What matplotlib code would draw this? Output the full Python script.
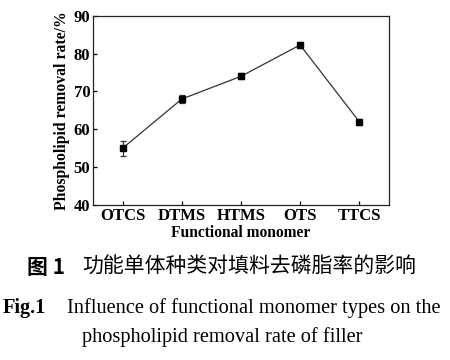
import matplotlib
matplotlib.use('agg')
import matplotlib.pyplot as plt
import numpy as np

# data
monomers = ["OTCS", "DTMS", "HTMS", "OTS", "TTCS"]
removal_rate = [55.0, 68.0, 74.0, 82.3, 62.0]
removal_err = [2.0, 1.1, 0.8, 0.9, 0.8]
y_ticks = [40, 50, 60, 70, 80, 90]

plt.rcParams['font.family'] = ['Liberation Serif', 'Noto Sans CJK SC']
plt.rcParams['font.weight'] = 'bold'

fig = plt.figure(figsize=(4.5, 3.6), dpi=100)
ax = fig.add_axes([0.207, 0.431, 0.657, 0.525])

x = np.arange(len(monomers))
ax.errorbar(x, removal_rate, yerr=removal_err, color='#333333', lw=0.9,
            marker='s', ms=4.5, mfc='black', mec='black',
            ecolor='#333333', elinewidth=0.9, capsize=2.5, capthick=0.9)

ax.set_xlim(-0.5, 4.5)
ax.set_ylim(40, 90)
ax.set_yticks(y_ticks)
ax.set_xticks(x)
ax.set_xticklabels(monomers)
ax.tick_params(direction='in', length=3, width=0.9, labelsize=12, pad=2)
for lab in ax.get_xticklabels() + ax.get_yticklabels():
    lab.set_fontweight('bold')
for sp in ax.spines.values():
    sp.set_linewidth(0.9)
    sp.set_color('#222222')

ax.set_xlabel("Functional monomer", fontsize=11.2, fontweight='bold', labelpad=1)
ax.set_ylabel("Phospholipid removal rate/%", fontsize=11.3, fontweight='bold', labelpad=3)

# caption
fig.text(27 / 450, 1 - 267 / 360, "图 1", fontsize=15, fontweight='bold',
         family=['Noto Sans CJK SC'], va='center', ha='left')
fig.text(82 / 450, 1 - 267 / 360, "功能单体种类对填料去磷脂率的影响", fontsize=15,
         fontweight='normal', family=['Noto Sans CJK SC'], va='center', ha='left')
fig.text(3 / 450, 1 - 308 / 360, "Fig.1", fontsize=14.7, fontweight='bold',
         va='center', ha='left')
fig.text(67 / 450, 1 - 308 / 360, "Influence of functional monomer types on the",
         fontsize=14.7, fontweight='normal', va='center', ha='left')
fig.text(222 / 450, 1 - 337 / 360, "phospholipid removal rate of filler",
         fontsize=14.7, fontweight='normal', va='center', ha='center')

plt.savefig("out.png", dpi=100)
